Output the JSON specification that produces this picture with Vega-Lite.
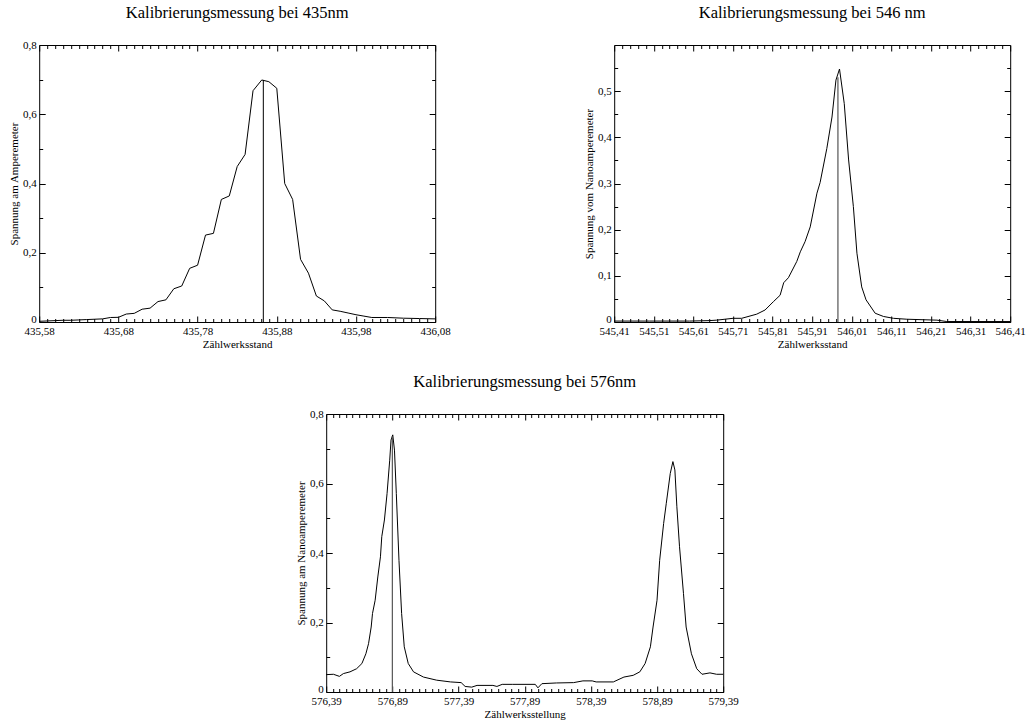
{
  "$schema": "https://vega.github.io/schema/vega-lite/v6.json",
  "background": "white",
  "padding": {"left": 7, "top": 4, "right": 5, "bottom": 2},
  "datasets": {
    "p1": [
      {"x": 435.58, "y": 0.002}, {"x": 435.59, "y": 0.003}, {"x": 435.60, "y": 0.004}, {"x": 435.61, "y": 0.005},
      {"x": 435.62, "y": 0.005}, {"x": 435.63, "y": 0.006}, {"x": 435.64, "y": 0.007}, {"x": 435.65, "y": 0.008},
      {"x": 435.66, "y": 0.009}, {"x": 435.67, "y": 0.013}, {"x": 435.68, "y": 0.0135}, {"x": 435.69, "y": 0.023},
      {"x": 435.70, "y": 0.025}, {"x": 435.71, "y": 0.037}, {"x": 435.72, "y": 0.040}, {"x": 435.73, "y": 0.059},
      {"x": 435.74, "y": 0.064}, {"x": 435.75, "y": 0.096}, {"x": 435.76, "y": 0.104}, {"x": 435.77, "y": 0.155},
      {"x": 435.78, "y": 0.164}, {"x": 435.79, "y": 0.251}, {"x": 435.80, "y": 0.256}, {"x": 435.81, "y": 0.354},
      {"x": 435.82, "y": 0.364}, {"x": 435.83, "y": 0.449}, {"x": 435.84, "y": 0.484}, {"x": 435.85, "y": 0.668},
      {"x": 435.861, "y": 0.699}, {"x": 435.87, "y": 0.694}, {"x": 435.88, "y": 0.675}, {"x": 435.89, "y": 0.400},
      {"x": 435.90, "y": 0.354}, {"x": 435.91, "y": 0.181}, {"x": 435.92, "y": 0.141}, {"x": 435.93, "y": 0.075},
      {"x": 435.94, "y": 0.061}, {"x": 435.95, "y": 0.035}, {"x": 435.96, "y": 0.031}, {"x": 435.97, "y": 0.026},
      {"x": 435.98, "y": 0.021}, {"x": 435.99, "y": 0.017}, {"x": 436.00, "y": 0.013}, {"x": 436.02, "y": 0.013},
      {"x": 436.04, "y": 0.011}, {"x": 436.06, "y": 0.010}, {"x": 436.08, "y": 0.009}
    ],
    "r1": [{"x": 435.863, "y": 0, "y2": 0.699}],
    "p2": [
      {"x": 545.41, "y": 0.002}, {"x": 545.50, "y": 0.002}, {"x": 545.60, "y": 0.002}, {"x": 545.65, "y": 0.003},
      {"x": 545.669, "y": 0.004}, {"x": 545.71, "y": 0.008}, {"x": 545.732, "y": 0.008}, {"x": 545.77, "y": 0.017},
      {"x": 545.791, "y": 0.026}, {"x": 545.812, "y": 0.044}, {"x": 545.829, "y": 0.058}, {"x": 545.838, "y": 0.085},
      {"x": 545.85, "y": 0.096}, {"x": 545.871, "y": 0.131}, {"x": 545.88, "y": 0.152}, {"x": 545.892, "y": 0.174},
      {"x": 545.905, "y": 0.206}, {"x": 545.922, "y": 0.279}, {"x": 545.93, "y": 0.302}, {"x": 545.947, "y": 0.376},
      {"x": 545.96, "y": 0.444}, {"x": 545.97, "y": 0.524}, {"x": 545.979, "y": 0.548}, {"x": 545.991, "y": 0.473},
      {"x": 546.002, "y": 0.351}, {"x": 546.014, "y": 0.25}, {"x": 546.023, "y": 0.149}, {"x": 546.035, "y": 0.076},
      {"x": 546.046, "y": 0.048}, {"x": 546.069, "y": 0.019}, {"x": 546.09, "y": 0.012}, {"x": 546.115, "y": 0.008},
      {"x": 546.149, "y": 0.006}, {"x": 546.225, "y": 0.004}, {"x": 546.25, "y": 0.001}, {"x": 546.41, "y": 0.001}
    ],
    "r2": [{"x": 545.975, "y": 0, "y2": 0.53}],
    "p3": [
      {"x": 576.39, "y": 0.050}, {"x": 576.445, "y": 0.051}, {"x": 576.49, "y": 0.045}, {"x": 576.52, "y": 0.053},
      {"x": 576.57, "y": 0.058}, {"x": 576.62, "y": 0.067}, {"x": 576.66, "y": 0.082}, {"x": 576.69, "y": 0.110},
      {"x": 576.71, "y": 0.139}, {"x": 576.73, "y": 0.187}, {"x": 576.74, "y": 0.226}, {"x": 576.76, "y": 0.264},
      {"x": 576.78, "y": 0.331}, {"x": 576.80, "y": 0.389}, {"x": 576.81, "y": 0.447}, {"x": 576.83, "y": 0.495},
      {"x": 576.85, "y": 0.571}, {"x": 576.87, "y": 0.667}, {"x": 576.88, "y": 0.725}, {"x": 576.893, "y": 0.740},
      {"x": 576.906, "y": 0.696}, {"x": 576.92, "y": 0.571}, {"x": 576.94, "y": 0.379}, {"x": 576.96, "y": 0.226},
      {"x": 576.98, "y": 0.130}, {"x": 577.01, "y": 0.082}, {"x": 577.05, "y": 0.058}, {"x": 577.125, "y": 0.043},
      {"x": 577.225, "y": 0.034}, {"x": 577.33, "y": 0.029}, {"x": 577.41, "y": 0.027}, {"x": 577.44, "y": 0.016},
      {"x": 577.49, "y": 0.014}, {"x": 577.53, "y": 0.019}, {"x": 577.65, "y": 0.019}, {"x": 577.68, "y": 0.016},
      {"x": 577.72, "y": 0.022}, {"x": 577.80, "y": 0.022}, {"x": 577.97, "y": 0.022}, {"x": 577.99, "y": 0.012},
      {"x": 578.02, "y": 0.024}, {"x": 578.13, "y": 0.026}, {"x": 578.26, "y": 0.027}, {"x": 578.33, "y": 0.032},
      {"x": 578.40, "y": 0.032}, {"x": 578.43, "y": 0.029}, {"x": 578.56, "y": 0.029}, {"x": 578.64, "y": 0.043},
      {"x": 578.71, "y": 0.048}, {"x": 578.76, "y": 0.058}, {"x": 578.80, "y": 0.082}, {"x": 578.84, "y": 0.130},
      {"x": 578.86, "y": 0.187}, {"x": 578.89, "y": 0.264}, {"x": 578.91, "y": 0.379}, {"x": 578.94, "y": 0.485},
      {"x": 578.96, "y": 0.543}, {"x": 578.99, "y": 0.629}, {"x": 579.01, "y": 0.663}, {"x": 579.025, "y": 0.639},
      {"x": 579.04, "y": 0.533}, {"x": 579.06, "y": 0.418}, {"x": 579.09, "y": 0.283}, {"x": 579.11, "y": 0.187},
      {"x": 579.15, "y": 0.110}, {"x": 579.19, "y": 0.067}, {"x": 579.23, "y": 0.051}, {"x": 579.29, "y": 0.055},
      {"x": 579.34, "y": 0.051}, {"x": 579.39, "y": 0.051}
    ],
    "r3": [{"x": 576.89, "y": 0, "y2": 0.735}]
  },
  "vconcat": [
    {
      "hconcat": [
        {
          "width": 396, "height": 277,
          "title": {"text": "Kalibrierungsmessung bei 435nm", "offset": 18},
          "resolve": {"axis": {"x": "independent", "y": "independent"}},
          "layer": [
            {
              "data": {"name": "p1"},
              "mark": {"type": "line", "color": "black", "strokeWidth": 1},
              "encoding": {
                "x": {"field": "x", "type": "quantitative", "scale": {"domain": [435.58, 436.08], "nice": false, "zero": false},
                  "axis": {"orient": "bottom", "values": [435.58, 435.68, 435.78, 435.88, 435.98, 436.08], "ticks": false, "tickSize": 0, "labelPadding": 3, "labelFlush": false, "labelOverlap": false, "labelExpr": "replace(format(datum.value, '.2f'), '.', ',')", "title": "Zählwerksstand", "titlePadding": 2}},
                "y": {"field": "y", "type": "quantitative", "scale": {"domain": [0, 0.8], "nice": false, "zero": true},
                  "axis": {"orient": "left", "values": [0, 0.2, 0.4, 0.6, 0.8], "ticks": false, "tickSize": 0, "labelPadding": 3, "labelFlush": false, "labelOverlap": false, "labelBaseline": {"condition": {"test": "datum.value == 0", "value": "alphabetic"}, "value": "middle"}, "labelExpr": "datum.value == 0 ? '0' : replace(format(datum.value, '.1f'), '.', ',')", "title": "Spannung am Amperemeter", "titlePadding": 3}}
              }
            },
            {
              "data": {"name": "r1"},
              "mark": {"type": "rule", "color": "black", "strokeWidth": 1},
              "encoding": {
                "x": {"field": "x", "type": "quantitative", "axis": {"orient": "top", "values": [435.58, 435.68, 435.78, 435.88, 435.98, 436.08], "labels": false, "tickSize": -6, "title": null}},
                "y": {"field": "y", "type": "quantitative", "axis": {"orient": "right", "values": [0, 0.2, 0.4, 0.6, 0.8], "labels": false, "tickSize": -6, "title": null}},
                "y2": {"field": "y2"}
              }
            },
            {
              "data": {"name": "p1"},
              "mark": {"type": "line", "opacity": 0},
              "encoding": {
                "x": {"field": "x", "type": "quantitative", "axis": {"orient": "bottom", "values": [435.58, 435.68, 435.78, 435.88, 435.98, 436.08], "labels": false, "tickSize": -6, "title": null}},
                "y": {"field": "y", "type": "quantitative", "axis": {"orient": "left", "values": [0, 0.2, 0.4, 0.6, 0.8], "labels": false, "tickSize": -6, "title": null}}
              }
            },
            {
              "data": {"name": "p1"},
              "mark": {"type": "line", "opacity": 0},
              "encoding": {
                "x": {"field": "x", "type": "quantitative", "axis": {"orient": "bottom", "values": [435.59,435.60,435.61,435.62,435.63,435.64,435.65,435.66,435.67,435.69,435.70,435.71,435.72,435.73,435.74,435.75,435.76,435.77,435.79,435.80,435.81,435.82,435.83,435.84,435.85,435.86,435.87,435.89,435.90,435.91,435.92,435.93,435.94,435.95,435.96,435.97,435.99,436.00,436.01,436.02,436.03,436.04,436.05,436.06,436.07], "labels": false, "tickSize": -3.5, "title": null}},
                "y": {"field": "y", "type": "quantitative", "axis": {"orient": "left", "values": [0.1, 0.3, 0.5, 0.7], "labels": false, "tickSize": -3.5, "title": null}}
              }
            },
            {
              "data": {"name": "p1"},
              "mark": {"type": "line", "opacity": 0},
              "encoding": {
                "x": {"field": "x", "type": "quantitative", "axis": {"orient": "top", "values": [435.59,435.60,435.61,435.62,435.63,435.64,435.65,435.66,435.67,435.69,435.70,435.71,435.72,435.73,435.74,435.75,435.76,435.77,435.79,435.80,435.81,435.82,435.83,435.84,435.85,435.86,435.87,435.89,435.90,435.91,435.92,435.93,435.94,435.95,435.96,435.97,435.99,436.00,436.01,436.02,436.03,436.04,436.05,436.06,436.07], "labels": false, "tickSize": -3.5, "title": null}},
                "y": {"field": "y", "type": "quantitative", "axis": {"orient": "right", "values": [0.1, 0.3, 0.5, 0.7], "labels": false, "tickSize": -3.5, "title": null}}
              }
            }
          ]
        },
        {
          "width": 396, "height": 277,
          "title": {"text": "Kalibrierungsmessung bei 546 nm", "offset": 23},
          "resolve": {"axis": {"x": "independent", "y": "independent"}},
          "layer": [
            {
              "data": {"name": "p2"},
              "mark": {"type": "line", "color": "black", "strokeWidth": 1},
              "encoding": {
                "x": {"field": "x", "type": "quantitative", "scale": {"domain": [545.41, 546.41], "nice": false, "zero": false},
                  "axis": {"orient": "bottom", "values": [545.41,545.51,545.61,545.71,545.81,545.91,546.01,546.11,546.21,546.31,546.41], "ticks": false, "tickSize": 0, "labelPadding": 3, "labelFlush": false, "labelOverlap": false, "labelExpr": "replace(format(datum.value, '.2f'), '.', ',')", "title": "Zählwerksstand", "titlePadding": 2}},
                "y": {"field": "y", "type": "quantitative", "scale": {"domain": [0, 0.6], "nice": false, "zero": true},
                  "axis": {"orient": "left", "values": [0, 0.1, 0.2, 0.3, 0.4, 0.5], "ticks": false, "tickSize": 0, "labelPadding": 3, "labelFlush": false, "labelOverlap": false, "labelBaseline": {"condition": {"test": "datum.value == 0", "value": "alphabetic"}, "value": "middle"}, "labelExpr": "datum.value == 0 ? '0' : replace(format(datum.value, '.1f'), '.', ',')", "title": "Spannung vom Nanoamperemeter", "titlePadding": 3}}
              }
            },
            {
              "data": {"name": "r2"},
              "mark": {"type": "rule", "color": "#555555", "strokeWidth": 1.2},
              "encoding": {
                "x": {"field": "x", "type": "quantitative", "axis": {"orient": "top", "values": [545.41,545.51,545.61,545.71,545.81,545.91,546.01,546.11,546.21,546.31,546.41], "labels": false, "tickSize": -6, "title": null}},
                "y": {"field": "y", "type": "quantitative", "axis": {"orient": "right", "values": [0, 0.1, 0.2, 0.3, 0.4, 0.5], "labels": false, "tickSize": -6, "title": null}},
                "y2": {"field": "y2"}
              }
            },
            {
              "data": {"name": "p2"},
              "mark": {"type": "line", "opacity": 0},
              "encoding": {
                "x": {"field": "x", "type": "quantitative", "axis": {"orient": "bottom", "values": [545.41,545.51,545.61,545.71,545.81,545.91,546.01,546.11,546.21,546.31,546.41], "labels": false, "tickSize": -6, "title": null}},
                "y": {"field": "y", "type": "quantitative", "axis": {"orient": "left", "values": [0, 0.1, 0.2, 0.3, 0.4, 0.5], "labels": false, "tickSize": -6, "title": null}}
              }
            },
            {
              "data": {"name": "p2"},
              "mark": {"type": "line", "opacity": 0},
              "encoding": {
                "x": {"field": "x", "type": "quantitative", "axis": {"orient": "bottom", "values": [545.43,545.45,545.47,545.49,545.53,545.55,545.57,545.59,545.63,545.65,545.67,545.69,545.73,545.75,545.77,545.79,545.83,545.85,545.87,545.89,545.93,545.95,545.97,545.99,546.03,546.05,546.07,546.09,546.13,546.15,546.17,546.19,546.23,546.25,546.27,546.29,546.33,546.35,546.37,546.39], "labels": false, "tickSize": -3.5, "title": null}},
                "y": {"field": "y", "type": "quantitative", "axis": {"orient": "left", "values": [0.05, 0.15, 0.25, 0.35, 0.45, 0.55], "labels": false, "tickSize": -3.5, "title": null}}
              }
            },
            {
              "data": {"name": "p2"},
              "mark": {"type": "line", "opacity": 0},
              "encoding": {
                "x": {"field": "x", "type": "quantitative", "axis": {"orient": "top", "values": [545.43,545.45,545.47,545.49,545.53,545.55,545.57,545.59,545.63,545.65,545.67,545.69,545.73,545.75,545.77,545.79,545.83,545.85,545.87,545.89,545.93,545.95,545.97,545.99,546.03,546.05,546.07,546.09,546.13,546.15,546.17,546.19,546.23,546.25,546.27,546.29,546.33,546.35,546.37,546.39], "labels": false, "tickSize": -3.5, "title": null}},
                "y": {"field": "y", "type": "quantitative", "axis": {"orient": "right", "values": [0.05, 0.15, 0.25, 0.35, 0.45, 0.55], "labels": false, "tickSize": -3.5, "title": null}}
              }
            }
          ]
        }
      ],
      "spacing": 131
    },
    {
      "width": 397, "height": 278,
      "title": {"text": "Kalibrierungsmessung bei 576nm", "offset": 18},
      "resolve": {"axis": {"x": "independent", "y": "independent"}},
      "layer": [
        {
          "data": {"name": "p3"},
          "mark": {"type": "line", "color": "black", "strokeWidth": 1},
          "encoding": {
            "x": {"field": "x", "type": "quantitative", "scale": {"domain": [576.39, 579.39], "nice": false, "zero": false},
              "axis": {"orient": "bottom", "values": [576.39, 576.89, 577.39, 577.89, 578.39, 578.89, 579.39], "ticks": false, "tickSize": 0, "labelPadding": 3, "labelFlush": false, "labelOverlap": false, "labelExpr": "replace(format(datum.value, '.2f'), '.', ',')", "title": "Zählwerksstellung", "titlePadding": 2}},
            "y": {"field": "y", "type": "quantitative", "scale": {"domain": [0, 0.8], "nice": false, "zero": true},
              "axis": {"orient": "left", "values": [0, 0.2, 0.4, 0.6, 0.8], "ticks": false, "tickSize": 0, "labelPadding": 3, "labelFlush": false, "labelOverlap": false, "labelBaseline": {"condition": {"test": "datum.value == 0", "value": "alphabetic"}, "value": "middle"}, "labelExpr": "datum.value == 0 ? '0' : replace(format(datum.value, '.1f'), '.', ',')", "title": "Spannung am Nanoamperemeter", "titlePadding": 3}}
          }
        },
        {
          "data": {"name": "r3"},
          "mark": {"type": "rule", "color": "#555555", "strokeWidth": 1.2},
          "encoding": {
            "x": {"field": "x", "type": "quantitative", "axis": {"orient": "top", "values": [576.39, 576.89, 577.39, 577.89, 578.39, 578.89, 579.39], "labels": false, "tickSize": -6, "title": null}},
            "y": {"field": "y", "type": "quantitative", "axis": {"orient": "right", "values": [0, 0.2, 0.4, 0.6, 0.8], "labels": false, "tickSize": -6, "title": null}},
            "y2": {"field": "y2"}
          }
        },
        {
          "data": {"name": "p3"},
          "mark": {"type": "line", "opacity": 0},
          "encoding": {
            "x": {"field": "x", "type": "quantitative", "axis": {"orient": "bottom", "values": [576.39, 576.89, 577.39, 577.89, 578.39, 578.89, 579.39], "labels": false, "tickSize": -6, "title": null}},
            "y": {"field": "y", "type": "quantitative", "axis": {"orient": "left", "values": [0, 0.2, 0.4, 0.6, 0.8], "labels": false, "tickSize": -6, "title": null}}
          }
        },
        {
          "data": {"name": "p3"},
          "mark": {"type": "line", "opacity": 0},
          "encoding": {
            "x": {"field": "x", "type": "quantitative", "axis": {"orient": "bottom", "values": [576.44,576.49,576.54,576.59,576.64,576.69,576.74,576.79,576.84,576.94,576.99,577.04,577.09,577.14,577.19,577.24,577.29,577.34,577.44,577.49,577.54,577.59,577.64,577.69,577.74,577.79,577.84,577.94,577.99,578.04,578.09,578.14,578.19,578.24,578.29,578.34,578.44,578.49,578.54,578.59,578.64,578.69,578.74,578.79,578.84,578.94,578.99,579.04,579.09,579.14,579.19,579.24,579.29,579.34], "labels": false, "tickSize": -3.5, "title": null}},
            "y": {"field": "y", "type": "quantitative", "axis": {"orient": "left", "values": [0.1, 0.3, 0.5, 0.7], "labels": false, "tickSize": -3.5, "title": null}}
          }
        },
        {
          "data": {"name": "p3"},
          "mark": {"type": "line", "opacity": 0},
          "encoding": {
            "x": {"field": "x", "type": "quantitative", "axis": {"orient": "top", "values": [576.44,576.49,576.54,576.59,576.64,576.69,576.74,576.79,576.84,576.94,576.99,577.04,577.09,577.14,577.19,577.24,577.29,577.34,577.44,577.49,577.54,577.59,577.64,577.69,577.74,577.79,577.84,577.94,577.99,578.04,578.09,578.14,578.19,578.24,578.29,578.34,578.44,578.49,578.54,578.59,578.64,578.69,578.74,578.79,578.84,578.94,578.99,579.04,579.09,579.14,579.19,579.24,579.29,579.34], "labels": false, "tickSize": -3.5, "title": null}},
            "y": {"field": "y", "type": "quantitative", "axis": {"orient": "right", "values": [0.1, 0.3, 0.5, 0.7], "labels": false, "tickSize": -3.5, "title": null}}
          }
        }
      ]
    }
  ],
  "spacing": 23,
  "center": true,
  "config": {
    "font": "Liberation Serif",
    "view": {"stroke": "black", "strokeWidth": 1},
    "axis": {"grid": false, "domain": false, "tickColor": "black", "tickWidth": 1, "labelColor": "black", "titleColor": "black", "labelFont": "Liberation Serif", "titleFont": "Liberation Serif", "labelFontSize": 11, "titleFontSize": 11, "titleFontWeight": "normal"},
    "title": {"font": "Liberation Serif", "fontSize": 16.5, "fontWeight": "normal", "color": "black", "frame": "group", "anchor": "middle"}
  }
}
